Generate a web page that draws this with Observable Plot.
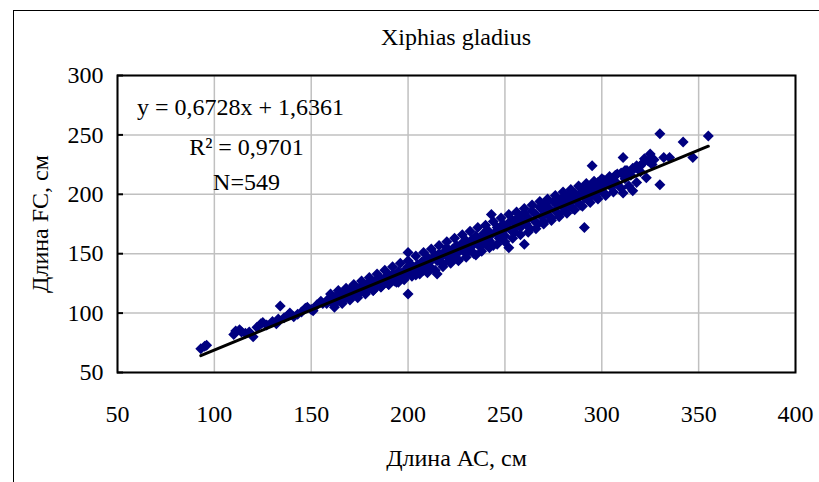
<!DOCTYPE html>
<html><head><meta charset="utf-8">
<script src="https://cdn.jsdelivr.net/npm/d3@7"></script>
<script src="https://cdn.jsdelivr.net/npm/@observablehq/plot@0.6"></script>
<style>
body{margin:0;background:#fff;overflow:hidden;font-family:"Times New Roman","Liberation Serif",serif;}
#wrap{position:relative;width:819px;height:482px;overflow:hidden;}
#border{position:absolute;left:13px;top:10px;width:900px;height:600px;border:1.5px solid #000;pointer-events:none;}
#title{position:absolute;left:117px;width:678px;top:22px;text-align:center;font-size:24px;line-height:30px;color:#000;}
#wrap svg{position:absolute;left:0;top:0;}
#wrap svg text{font-family:"Times New Roman","Liberation Serif",serif !important;}
</style></head><body>
<div id="wrap"><div id="border"></div><div id="title"></div></div>
<script>
const chartTitle = "Xiphias gladius";
const xLabel = "Длина АС, см";
const yLabel = "Длина FC, см";
const xTicks = [50, 100, 150, 200, 250, 300, 350, 400];
const yTicks = [50, 100, 150, 200, 250, 300];
const slope = [0.6728];
const intercept = [1.6361];
const annotationLines = ["y = 0,6728x + 1,6361", "R² = 0,9701", "N=549"];

// AC length (x) and FC length (y), 10 per row: core of the band
const acLength = [
  93, 95, 96, 110, 111, 113, 114, 116, 118, 120,
  122, 124, 125, 127, 130, 132, 133, 134, 136, 138,
  139, 141, 143, 145, 147, 148, 150, 151, 153, 155,
  156, 158, 159, 160, 161, 162, 163, 164, 165, 166,
  167, 168, 169, 170, 170, 171, 172, 173, 174, 175,
  176, 177, 178, 179, 180, 180, 181, 182, 183, 184,
  185, 186, 186, 187, 188, 189, 190, 190, 191, 192,
  193, 194, 195, 195, 196, 197, 198, 199, 200, 200,
  200, 200, 201, 202, 203, 204, 205, 206, 207, 208,
  209, 210, 210, 211, 212, 213, 214, 215, 215, 216,
  217, 218, 219, 220, 220, 221, 222, 223, 224, 225,
  225, 226, 227, 228, 229, 230, 230, 231, 232, 233,
  234, 235, 235, 236, 237, 238, 239, 240, 240, 241,
  242, 243, 243, 244, 245, 246, 247, 248, 249, 250,
  250, 251, 252, 252, 253, 254, 255, 256, 257, 258,
  259, 260, 260, 261, 262, 263, 264, 265, 266, 267,
  268, 269, 270, 270, 271, 272, 273, 274, 275, 276,
  277, 278, 279, 280, 280, 281, 282, 283, 284, 285,
  286, 287, 288, 289, 290, 291, 291, 292, 293, 294,
  295, 295, 296, 297, 298, 299, 300, 301, 302, 303,
  304, 305, 306, 307, 308, 310, 311, 311, 312, 313,
  315, 316, 317, 318, 320, 321, 322, 323, 324, 325,
  326, 327, 330, 330, 332, 335, 342, 347, 355
];
const fcLength = [
  70, 72, 73, 82, 85, 86, 84, 83, 84, 80,
  88, 91, 92, 90, 93, 91, 95, 106, 96, 98,
  100, 97, 99, 101, 104, 105, 103, 102, 107, 110,
  108, 108, 112, 110, 114, 113, 109, 116, 112, 115,
  118, 113, 117, 120, 114, 116, 121, 118, 115, 120,
  123, 119, 122, 125, 121, 126, 124, 119, 127, 123,
  126, 129, 122, 125, 130, 127, 124, 132, 129, 133,
  127, 131, 135, 126, 130, 134, 131, 137, 116, 151,
  133, 139, 135, 140, 137, 132, 141, 138, 143, 136,
  145, 140, 147, 143, 138, 146, 149, 133, 144, 150,
  147, 141, 152, 148, 155, 144, 151, 154, 147, 157,
  150, 145, 153, 159, 155, 150, 161, 157, 153, 162,
  158, 149, 165, 160, 156, 163, 167, 158, 164, 170,
  161, 183, 166, 157, 168, 172, 163, 169, 175, 165,
  171, 172, 155, 176, 170, 178, 168, 174, 181, 172,
  177, 158, 184, 175, 180, 171, 186, 178, 183, 175,
  189, 181, 186, 177, 192, 183, 188, 180, 194, 186,
  191, 183, 196, 189, 194, 186, 199, 192, 197, 188,
  201, 194, 199, 191, 204, 172, 197, 202, 195, 207,
  224, 200, 205, 198, 210, 203, 207, 212, 200, 209,
  214, 206, 211, 216, 209, 218, 231, 201, 213, 220,
  216, 203, 222, 224, 219, 226, 230, 214, 228, 234,
  225, 229, 251, 208, 231, 231, 244, 231, 249
];
// outer edges of the band
const acLengthEdge = [
  160, 162, 164, 166, 168, 170, 172, 174, 176, 178,
  180, 182, 184, 186, 188, 190, 192, 194, 196, 198,
  200, 202, 204, 206, 208, 210, 212, 214, 216, 218,
  220, 222, 224, 226, 228, 230, 232, 234, 236, 238,
  240, 242, 244, 246, 248, 250, 252, 254, 256, 258,
  260, 262, 264, 266, 268, 270, 272, 274, 276, 278,
  280, 282, 284, 286, 288, 290, 292, 294, 296, 298,
  300, 302, 304, 306, 308, 310, 312, 314, 316, 318, 320
];
const fcLengthEdge = [
  116, 105, 119, 108, 121, 111, 124, 113, 127, 116,
  130, 119, 133, 122, 136, 124, 139, 126, 142, 128,
  144, 131, 148, 133, 151, 134, 154, 136, 157, 139,
  160, 142, 163, 144, 166, 147, 169, 150, 172, 152,
  174, 155, 177, 158, 180, 160, 183, 163, 185, 166,
  188, 168, 191, 171, 194, 175, 196, 178, 199, 181,
  202, 184, 204, 187, 207, 190, 209, 193, 211, 196,
  213, 199, 215, 202, 217, 205, 220, 207, 222, 210, 224
];
const points = acLength.map((x, i) => ({x, y: fcLength[i]}))
  .concat(acLengthEdge.map((x, i) => ({x, y: fcLengthEdge[i]})));
const fitX = [d3.min(acLength), d3.max(acLength)];
const fitLine = fitX.map(x => ({x, y: slope[0] * x + intercept[0]}));

const diamond = {
  draw(ctx, size) {
    const h = Math.sqrt(size / Math.PI);
    ctx.moveTo(0, -h); ctx.lineTo(h, 0); ctx.lineTo(0, h); ctx.lineTo(-h, 0); ctx.closePath();
  }
};

const font = "Times New Roman, Liberation Serif, serif";
document.getElementById("title").textContent = chartTitle;
const chart = Plot.plot({
  width: 819, height: 482,
  marginLeft: 117, marginRight: 24, marginTop: 75, marginBottom: 110,
  style: {fontFamily: font, fontSize: "24px", color: "#000", background: "transparent", overflow: "visible"},
  x: {domain: [50, 400]},
  y: {domain: [50, 300]},
  marks: [
    Plot.gridX(xTicks, {stroke: "#c0c0c0", strokeOpacity: 1, strokeWidth: 1.5}),
    Plot.gridY(yTicks, {stroke: "#c0c0c0", strokeOpacity: 1, strokeWidth: 1.5}),
    Plot.axisX(xTicks, {tickSize: 0, tickPadding: 32, fontSize: 24, fontFamily: font, label: null}),
    Plot.axisY(yTicks, {tickSize: 0, tickPadding: 14, fontSize: 24, fontFamily: font, label: null}),
    Plot.axisY(yTicks, {tickSize: 6, dx: 6, strokeWidth: 2, tickFormat: () => "", label: null}),
    Plot.dot(points, {x: "x", y: "y", symbol: diamond, r: 5.5, fill: "#000080", stroke: "none"}),
    Plot.line(fitLine, {x: "x", y: "y", stroke: "#000", strokeWidth: 3}),
    Plot.frame({stroke: "#000", strokeWidth: 2}),
    Plot.text([annotationLines[0]], {frameAnchor: "top-left", dx: 123, dy: 32, textAnchor: "middle", lineAnchor: "middle", fontSize: 24, fontFamily: font}),
    Plot.text([annotationLines[1]], {frameAnchor: "top-left", dx: 129, dy: 72, textAnchor: "middle", lineAnchor: "middle", fontSize: 24, fontFamily: font}),
    Plot.text([annotationLines[2]], {frameAnchor: "top-left", dx: 129, dy: 107, textAnchor: "middle", lineAnchor: "middle", fontSize: 24, fontFamily: font}),
    Plot.text([xLabel], {frameAnchor: "bottom", dy: 86, lineAnchor: "middle", fontSize: 24, fontFamily: font}),
    Plot.text([yLabel], {frameAnchor: "left", dx: -77, rotate: -90, lineAnchor: "middle", textAnchor: "middle", fontSize: 24, fontFamily: font})
  ]
});
document.getElementById("wrap").appendChild(chart);
</script>
</body></html>
